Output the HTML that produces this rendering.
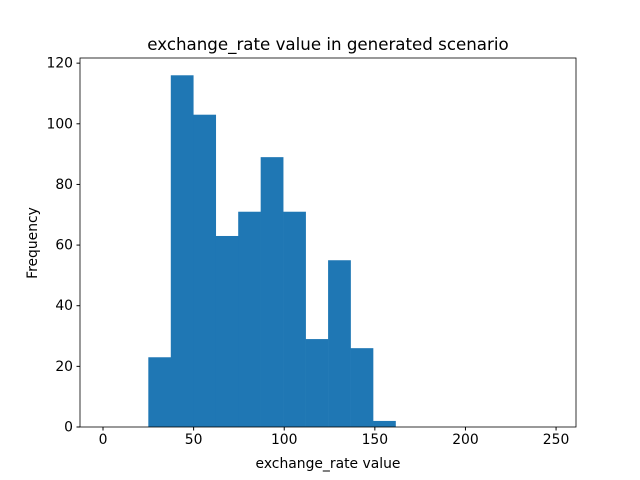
<!DOCTYPE html>
<html><head><meta charset="utf-8"><style>body{margin:0;background:#fff}svg{display:block;font-family:"DejaVu Sans","Liberation Sans",sans-serif}</style></head>
<body>
<svg id="chart" width="640" height="480">
<rect width="640" height="480" fill="#fff"/>
<text x="328" y="50" font-size="16.67" text-anchor="middle">exchange_rate value in generated scenario</text>
<g id="bars"></g>
<g id="xticks"></g>
<g id="yticks"></g>
<rect x="80" y="58" width="496" height="369" fill="none" stroke="#000" stroke-width="0.8"/>
<text x="328" y="468" font-size="13.9" text-anchor="middle">exchange_rate value</text>
<text transform="translate(37,243) rotate(-90)" font-size="13.9" text-anchor="middle">Frequency</text>
</svg>
<script>
const binStart = 25.0;
const binWidth = 12.4;
const counts = [23, 116, 103, 63, 71, 89, 71, 29, 55, 26, 2];
const xTickLabels = [0, 50, 100, 150, 200, 250];
const yTickLabels = [0, 20, 40, 60, 80, 100, 120];
const X0=80,X1=576,Y0=427,Y1=58, xmin=-12.7, xmax=261, ymin=0, ymax=121.7;
const sx=v=>X0+(v-xmin)/(xmax-xmin)*(X1-X0);
const sy=v=>Y0-(v-ymin)/(ymax-ymin)*(Y0-Y1);
const NS='http://www.w3.org/2000/svg';
const bars=document.getElementById('bars');
counts.forEach((c,i)=>{
  const r=document.createElementNS(NS,'rect');
  const a=sx(binStart+i*binWidth), b=sx(binStart+(i+1)*binWidth);
  r.setAttribute('x',a);r.setAttribute('width',b-a+0.3);
  r.setAttribute('y',sy(c));r.setAttribute('height',sy(0)-sy(c));
  r.setAttribute('fill','#1f77b4');
  
  
  bars.appendChild(r);
});
const xt=document.getElementById('xticks');
xTickLabels.forEach(v=>{
  const x=sx(v);
  const l=document.createElementNS(NS,'line');
  l.setAttribute('x1',x);l.setAttribute('x2',x);l.setAttribute('y1',Y0);l.setAttribute('y2',Y0+3.5);l.setAttribute('stroke','#000');
  
  
  xt.appendChild(l);
  const t=document.createElementNS(NS,'text');
  t.setAttribute('x',x);t.setAttribute('y',Y0+17);t.setAttribute('font-size','13.9');t.setAttribute('text-anchor','middle');
  t.textContent=v;
  
  
  xt.appendChild(t);
});
const yt=document.getElementById('yticks');
yTickLabels.forEach(v=>{
  const y=sy(v);
  const l=document.createElementNS(NS,'line');
  l.setAttribute('x1',X0-3.5);l.setAttribute('x2',X0);l.setAttribute('y1',y);l.setAttribute('y2',y);l.setAttribute('stroke','#000');
  
  
  yt.appendChild(l);
  const t=document.createElementNS(NS,'text');
  t.setAttribute('x',X0-7);t.setAttribute('y',y+4.5);t.setAttribute('font-size','13.9');t.setAttribute('text-anchor','end');
  t.textContent=v;
  
  
  yt.appendChild(t);
});
</script>
</body></html>
